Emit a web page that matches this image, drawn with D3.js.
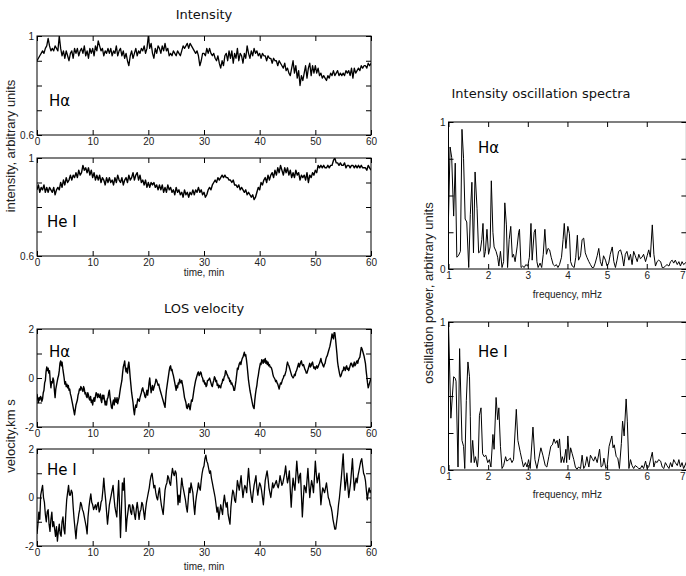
<!DOCTYPE html>
<html><head><meta charset="utf-8">
<script src="https://cdn.jsdelivr.net/npm/d3@7"></script>
<style>body{margin:0;background:#fff}svg{display:block}</style>
</head><body><svg id="c" width="686" height="576"></svg>
<script>
// ---------------- data ----------------
const intensityStep = 0.25; // min between samples (intensity series)
const haVelStep = 0.125;    // min
const heVelStep = 1 / 6;    // min
const timeTicks = [0, 10, 20, 30, 40, 50, 60];
const timeTickLabels = ["0", "10", "20", "30", "40", "50", "60"];
const intensityTicks = [0.6, 0.7, 0.8, 0.9, 1];
const intensityTickLabels = ["0.6", "", "", "", "1"];
const velocityTicks = [-2, -1, 0, 1, 2];
const velocityTickLabels = ["-2", "", "0", "", "2"];
const freqTicks = [1, 2, 3, 4, 5, 6, 7];
const freqTickLabels = ["1", "2", "3", "4", "5", "6", "7"];
const powerTicks = [0, 0.25, 0.5, 0.75, 1];
const powerTickLabels = ["0", "", "", "", "1"];

const haIntensity = [
0.90,0.91,0.92,0.93, 0.94,0.93,0.95,0.96, 0.99,0.96,0.94,0.95, 0.94,0.96,0.95,0.94, 1.00,0.95,0.92,0.94, 0.91,0.94,0.92,0.90, 0.93,0.94,0.91,0.95, 0.93,0.95,0.92,0.94, 0.95,0.93,0.96,0.92, 0.94,0.91,0.95,0.93,
0.95,0.92,0.96,0.94, 0.98,0.96,0.94,0.95, 0.92,0.94,0.93,0.95, 0.93,0.95,0.92,0.94, 0.93,0.96,0.92,0.94, 0.95,0.92,0.94,0.91, 0.93,0.90,0.88,0.92, 0.94,0.91,0.93,0.95, 0.92,0.94,0.93,0.95, 0.94,0.96,0.93,0.95,
1.00,0.95,0.97,0.93, 0.91,0.95,0.93,0.96, 0.95,0.93,0.96,0.94, 0.97,0.94,0.95,0.92, 0.93,0.92,0.94,0.93, 0.92,0.94,0.93,0.92, 0.94,0.96,0.95,0.96, 0.97,0.95,0.97,0.96, 0.95,0.94,0.93,0.94, 0.92,0.88,0.90,0.93,
0.93,0.92,0.95,0.93, 0.95,0.93,0.92,0.93, 0.91,0.90,0.92,0.89, 0.87,0.90,0.88,0.92, 0.93,0.90,0.94,0.91, 0.94,0.89,0.93,0.91, 0.95,0.90,0.93,0.92, 0.89,0.93,0.91,0.96, 0.93,0.91,0.94,0.92, 0.95,0.93,0.94,0.92,
0.93,0.91,0.93,0.92, 0.92,0.90,0.92,0.91, 0.91,0.89,0.91,0.90, 0.90,0.88,0.90,0.89, 0.88,0.87,0.89,0.86, 0.87,0.85,0.84,0.87, 0.90,0.85,0.88,0.83, 0.86,0.80,0.84,0.82, 0.85,0.88,0.83,0.87, 0.89,0.84,0.88,0.85,
0.88,0.85,0.87,0.84, 0.85,0.83,0.84,0.83, 0.82,0.84,0.83,0.85, 0.84,0.86,0.84,0.85, 0.86,0.84,0.85,0.84, 0.85,0.84,0.86,0.85, 0.86,0.84,0.87,0.83, 0.87,0.85,0.86,0.87, 0.86,0.88,0.87,0.88, 0.88,0.87,0.89,0.88,
0.89];

const heIntensity = [
0.87,0.89,0.86,0.88, 0.87,0.89,0.86,0.88, 0.86,0.88,0.87,0.86, 0.88,0.85,0.87,0.88, 0.87,0.90,0.88,0.91, 0.89,0.92,0.90,0.91, 0.93,0.91,0.93,0.92, 0.94,0.92,0.95,0.93, 0.94,0.97,0.95,0.96, 0.94,0.96,0.93,0.95,
0.92,0.94,0.91,0.93, 0.91,0.93,0.90,0.92, 0.91,0.89,0.92,0.90, 0.92,0.90,0.91,0.89, 0.92,0.90,0.93,0.91, 0.90,0.92,0.89,0.91, 0.92,0.90,0.93,0.91, 0.92,0.94,0.91,0.93, 0.94,0.91,0.93,0.90, 0.91,0.89,0.91,0.88,
0.90,0.88,0.90,0.89, 0.90,0.88,0.89,0.87, 0.89,0.87,0.89,0.86, 0.88,0.86,0.89,0.87, 0.88,0.86,0.87,0.85, 0.88,0.86,0.87,0.85, 0.86,0.84,0.87,0.85, 0.86,0.84,0.86,0.85, 0.87,0.85,0.87,0.86, 0.88,0.86,0.87,0.85,
0.86,0.84,0.85,0.87, 0.88,0.87,0.89,0.90, 0.91,0.90,0.92,0.91, 0.92,0.93,0.92,0.93, 0.92,0.92,0.91,0.91, 0.90,0.91,0.89,0.89, 0.88,0.89,0.87,0.88, 0.87,0.86,0.87,0.85, 0.86,0.85,0.84,0.85, 0.83,0.84,0.86,0.88,
0.87,0.90,0.89,0.91, 0.92,0.90,0.93,0.91, 0.93,0.94,0.92,0.95, 0.93,0.96,0.94,0.97, 0.95,0.93,0.96,0.94, 0.96,0.93,0.95,0.92, 0.94,0.92,0.95,0.93, 0.94,0.91,0.93,0.92, 0.93,0.91,0.94,0.90, 0.93,0.92,0.94,0.93,
0.95,0.94,0.97,0.96, 0.97,0.96,0.97,0.96, 0.96,0.97,0.96,0.97, 0.97,0.99,1.00,0.98, 0.98,0.97,0.98,0.97, 0.97,0.98,0.96,0.97, 0.97,0.96,0.97,0.97, 0.96,0.97,0.96,0.97, 0.96,0.97,0.96,0.96, 0.96,0.95,0.97,0.96,
0.95];

const haVelocity = [
-0.65,-0.85,-1.0,-0.8,-0.9,-0.75,-0.8,-0.95, -0.85,-0.6,-0.5,-0.2,-0.1,0.25,0.45,0.3, 0.4,0.2,0.3,-0.1,-0.4,-0.15,-0.2,0.0, -0.1,-0.5,-0.8,-0.45,-0.3,-0.15,0.0,0.1, 0.3,0.6,0.7,0.5,0.65,0.4,0.2,0.0,
-0.25,-0.15,-0.35,-0.25,-0.4,-0.3,-0.5,-0.45, -0.65,-0.75,-0.9,-1.05,-1.2,-1.35,-1.5,-1.3, -1.1,-1.0,-0.9,-0.7,-0.6,-0.45,-0.5,-0.35, -0.4,-0.5,-0.55,-0.35,-0.45,-0.65,-0.6,-0.75, -0.8,-0.6,-0.7,-0.85,-0.9,-0.75,-1.0,-0.9,
-1.1,-0.9,-0.8,-0.95,-0.75,-0.6,-0.65,-0.8, -0.65,-0.75,-0.8,-0.65,-0.9,-1.0,-0.7,-0.85, -0.7,-0.9,-1.1,-0.95,-1.1,-0.85,-0.8,-0.6, -0.5,-0.8,-1.0,-1.2,-1.25,-1.0,-0.9,-1.1, -0.8,-0.95,-1.0,-0.8,-1.05,-0.9,-0.8,-0.6,
-0.4,-0.25,-0.1,0.2,0.45,0.55,0.7,0.4, 0.25,0.4,0.2,0.5,0.65,0.35,0.0,-0.3, -0.6,-0.8,-1.0,-1.3,-1.5,-1.25,-1.1,-1.2, -1.0,-0.85,-0.9,-0.95,-0.8,-0.7,-0.6,-0.45, -0.4,-0.55,-0.6,-0.75,-0.8,-0.65,-0.5,-0.7,
-0.5,-0.2,0.0,-0.3,-0.6,-0.45,-0.3,-0.5, -0.4,-0.3,-0.2,-0.05,-0.1,-0.2,-0.3,-0.25, -0.4,-0.5,-0.6,-0.7,-0.8,-0.9,-1.0,-1.1, -1.2,-0.8,-0.5,-0.3,-0.1,0.1,0.3,0.45, 0.5,0.3,0.35,0.2,0.1,-0.05,-0.2,-0.35,
-0.5,-0.3,-0.4,-0.2,-0.25,-0.05,-0.15,-0.2, -0.1,-0.25,-0.4,-0.6,-0.8,-0.9,-1.0,-1.2, -1.25,-1.1,-1.05,-1.2,-1.3,-1.1,-0.9,-0.95, -0.8,-0.6,-0.4,-0.25,-0.1,0.0,0.1,0.2, 0.25,0.1,0.15,0.25,0.2,0.05,0.0,-0.15,
-0.1,-0.25,-0.2,-0.35,-0.3,-0.1,-0.1,-0.05, 0.0,-0.1,-0.2,-0.3,-0.35,-0.2,-0.1,0.05, 0.0,-0.15,-0.1,-0.3,-0.25,-0.4,-0.3,-0.35, -0.4,-0.25,-0.2,-0.05,-0.1,0.05,0.1,0.3, 0.25,0.15,0.1,0.0,0.0,-0.15,-0.1,-0.25,
-0.2,-0.3,-0.35,-0.5,-0.5,-0.3,-0.1,0.15, 0.4,0.35,0.5,0.6,0.65,0.55,0.7,0.8, 0.85,0.95,1.05,0.9,0.95,0.75,0.5,0.2, -0.1,-0.3,-0.5,-0.65,-0.8,-0.95,-1.1,-1.2, -1.25,-0.9,-0.65,-0.45,-0.3,-0.05,0.1,0.3,
0.45,0.6,0.55,0.75,0.7,0.6,0.75,0.65, 0.8,0.6,0.7,0.55,0.65,0.5,0.55,0.45, 0.45,0.4,0.3,0.15,0.05,0.0,-0.05,-0.15, -0.1,-0.2,-0.25,-0.35,-0.45,-0.3,-0.2,-0.25, -0.15,-0.05,0.0,0.1,0.1,0.2,0.3,0.5,
0.65,0.55,0.5,0.4,0.3,0.2,0.1,0.05, 0.0,0.05,0.15,0.1,0.25,0.3,0.4,0.5, 0.6,0.45,0.55,0.65,0.7,0.55,0.5,0.55, 0.45,0.35,0.3,0.2,0.2,0.3,0.4,0.5, 0.6,0.45,0.5,0.6,0.65,0.5,0.4,0.45,
0.35,0.45,0.5,0.4,0.45,0.55,0.6,0.7, 0.8,0.65,0.6,0.5,0.45,0.55,0.6,0.75, 0.85,0.9,1.0,1.1,1.2,1.3,1.45,1.6, 1.8,1.7,1.6,1.85,1.85,1.6,1.3,1.0, 0.65,0.45,0.3,0.15,0.05,0.1,0.2,0.3,
0.3,0.45,0.4,0.3,0.45,0.5,0.35,0.4, 0.3,0.4,0.5,0.6,0.6,0.5,0.45,0.55, 0.65,0.5,0.55,0.65,0.7,0.6,0.75,0.8, 0.85,1.05,1.25,1.2,1.1,1.0,0.9,0.75, 0.6,0.3,0.05,-0.2,-0.4,-0.3,-0.2,-0.1,
0.0];

const heVelocity = [
-1.5,-1.1,-0.6,-0.9,0.1,0.3, 0.5,0.0,-0.2,-0.7,-1.0,-0.6, -0.5,-1.1,-1.4,-0.9,-0.6,-1.2, -1.0,-1.3,-1.6,-1.2,-1.8,-1.4, -1.1,-1.5,-1.6,-1.0,-0.8,-1.3,
-1.5,-0.7,-0.1,0.2,0.5,0.1, 0.1,0.3,0.2,-0.4,-0.9,-1.3, -1.7,-1.2,-1.0,-0.7,-0.5,-0.2, -0.3,-0.5,-0.6,-0.8,-1.0,-1.2, -1.5,-0.8,-0.4,-0.1,0.15,-0.2,
-0.3,-0.5,-0.4,-0.3,-0.5,-0.3, -0.2,-0.6,-0.5,-0.2,-0.1,0.3, 0.8,0.3,-0.1,-0.6,-1.1,-0.7, -0.3,-0.1,0.1,0.3,0.5,0.0, -0.4,-0.6,-0.8,0.0,0.7,-0.4,
-1.65,-0.5,0.6,0.3,0.8,-0.2, -1.4,-0.9,-0.6,-0.3,-0.3,-0.6, -0.7,-0.3,-0.4,-0.7,-0.9,-0.5, -0.2,-0.5,-0.9,-0.6,-0.5,-0.2, -0.3,-0.6,-0.9,-0.5,-0.2,0.0,
0.2,0.4,0.7,0.9,1.0,0.7, 0.4,0.5,0.2,0.0,-0.1,0.2, 0.4,0.0,-0.3,-0.5,-0.7,-0.2, 0.3,0.5,0.6,0.9,0.8,0.6, 0.5,0.9,1.2,1.0,0.9,1.1,
1.0,0.4,-0.3,0.1,-0.2,0.3, 0.8,0.5,0.3,0.1,-0.1,-0.4, -0.6,-0.1,0.4,0.2,0.6,0.4, 0.2,-0.3,-0.7,-0.2,0.1,0.3, 0.6,0.4,0.3,0.7,1.0,1.2,
1.3,1.6,1.75,1.5,1.4,1.2, 1.0,1.1,0.8,0.6,0.4,0.2, 0.0,-0.3,-0.6,-0.4,-0.9,-0.6, -0.3,-0.5,-0.7,-0.2,0.1,-0.2, -0.4,-0.2,-0.7,-0.9,-1.1,-0.4,
0.0,0.3,0.2,-0.1,-0.2,0.2, 0.7,0.5,0.3,0.6,0.9,0.4, 0.0,0.3,0.5,0.4,0.2,0.7, 1.2,0.7,0.3,0.0,-0.2,0.2, 0.5,0.7,0.9,0.4,0.1,0.4,
0.6,0.5,0.3,0.0,-0.3,0.2, 0.7,0.9,1.1,0.8,0.4,0.2, 0.0,0.3,0.6,0.4,0.5,0.6, 0.7,0.5,0.4,0.6,0.9,0.7, 0.5,0.6,0.8,1.0,1.3,0.9,
0.6,0.8,1.1,0.3,-0.4,0.3, 0.8,0.5,0.3,0.9,1.5,1.0, 0.6,0.9,1.0,0.1,-0.8,-0.1, 0.5,0.4,0.2,0.7,1.2,0.6, 0.0,0.4,0.7,0.5,0.2,0.8,
1.5,1.0,0.6,0.8,1.0,0.4, -0.3,0.1,0.4,0.3,0.2,0.4, 0.6,0.3,0.0,-0.1,-0.3,-0.4, -0.6,-0.9,-1.1,-1.3,-1.3,-1.0, -0.7,-0.3,0.0,0.4,0.8,1.3,
1.8,1.0,0.3,0.6,1.0,0.5, 0.0,0.3,0.6,1.1,1.6,0.9, 0.3,0.6,0.8,0.6,0.9,1.1, 1.3,1.5,1.6,1.3,1.0,0.9, 0.7,0.3,-0.1,0.2,0.4,0.2,
0.3];

const haFreq = [1.00,1.04,1.08,1.13,1.17,1.21,1.25,1.30,1.34,1.38,1.42,1.46,1.51,1.55,1.59,1.63,1.67,1.72,1.76,1.80,1.84,1.87,1.90,1.93,1.97,2.01,2.05,2.08,2.12,2.15,2.20,2.24,2.27,2.31,2.35,2.39,2.42,2.46,2.49,2.53,2.57,2.61,2.64,2.68,2.73,2.77,2.79,2.83,2.87,2.91,2.95,3.00,3.04,3.08,3.11,3.16,3.19,3.23,3.26,3.31,3.35,3.39,3.43,3.47,3.51,3.55,3.59,3.64,3.68,3.72,3.76,3.80,3.85,3.89,3.92,3.96,4.01,4.05,4.08,4.12,4.17,4.21,4.25,4.28,4.33,4.37,4.41,4.45,4.49,4.54,4.58,4.62,4.66,4.70,4.75,4.79,4.83,4.87,4.91,4.96,5.00,5.04,5.08,5.13,5.17,5.21,5.25,5.29,5.34,5.38,5.42,5.46,5.50,5.55,5.59,5.63,5.67,5.71,5.76,5.80,5.84,5.88,5.92,5.97,6.01,6.05,6.09,6.14,6.18,6.22,6.26,6.30,6.35,6.39,6.43,6.47,6.51,6.56,6.60,6.64,6.68,6.72,6.77,6.81,6.85,6.89,6.93,7.01];
const haPower = [0.35,0.83,0.76,0.36,0.72,0.08,0.09,0.12,0.95,0.75,0.34,0.32,0.01,0.37,0.59,0.11,0.66,0.41,0.11,0.12,0.20,0.31,0.08,0.12,0.27,0.10,0.15,0.60,0.25,0.15,0.12,0.08,0.02,0.12,0.01,0.05,0.45,0.30,0.01,0.20,0.29,0.08,0.10,0.05,0.15,0.25,0.27,0.01,0.02,0.01,0.03,0.02,0.08,0.31,0.06,0.25,0.27,0.05,0.01,0.04,0.01,0.10,0.27,0.10,0.14,0.13,0.08,0.03,0.02,0.03,0.01,0.03,0.08,0.20,0.31,0.14,0.29,0.24,0.05,0.02,0.01,0.08,0.23,0.06,0.09,0.20,0.21,0.11,0.08,0.05,0.03,0.01,0.01,0.04,0.09,0.14,0.05,0.02,0.09,0.06,0.02,0.04,0.10,0.15,0.05,0.01,0.06,0.12,0.13,0.09,0.02,0.10,0.12,0.06,0.10,0.03,0.12,0.09,0.05,0.10,0.07,0.08,0.10,0.05,0.09,0.13,0.08,0.30,0.10,0.02,0.05,0.06,0.05,0.01,0.01,0.02,0.03,0.02,0.05,0.06,0.04,0.06,0.03,0.05,0.02,0.05,0.03,0.05];

const heFreq = [1.00,1.06,1.13,1.17,1.19,1.24,1.28,1.34,1.38,1.41,1.45,1.49,1.53,1.55,1.57,1.61,1.65,1.68,1.73,1.75,1.78,1.82,1.86,1.90,1.94,1.99,2.03,2.07,2.12,2.15,2.20,2.24,2.27,2.31,2.35,2.39,2.44,2.47,2.52,2.56,2.60,2.64,2.71,2.75,2.81,2.85,2.89,2.94,2.98,3.02,3.06,3.13,3.18,3.23,3.28,3.33,3.38,3.44,3.48,3.53,3.58,3.62,3.66,3.70,3.74,3.77,3.80,3.84,3.87,3.91,3.96,3.98,4.01,4.05,4.08,4.12,4.16,4.20,4.24,4.28,4.33,4.37,4.41,4.45,4.49,4.54,4.58,4.62,4.66,4.70,4.75,4.81,4.85,4.89,4.92,4.97,5.00,5.05,5.12,5.15,5.18,5.23,5.27,5.31,5.36,5.39,5.43,5.48,5.51,5.55,5.59,5.63,5.67,5.71,5.76,5.80,5.84,5.88,5.92,5.97,6.01,6.05,6.14,6.18,6.22,6.26,6.30,6.35,6.39,6.43,6.47,6.51,6.56,6.60,6.64,6.68,6.72,6.77,6.81,6.85,6.89,6.93,7.01];
const hePower = [0.99,0.35,0.63,0.62,0.60,0.02,0.82,0.20,0.16,0.01,0.47,0.73,0.63,0.36,0.05,0.20,0.05,0.09,0.02,0.08,0.37,0.42,0.11,0.09,0.10,0.05,0.07,0.02,0.24,0.14,0.49,0.34,0.42,0.16,0.01,0.03,0.09,0.06,0.07,0.08,0.05,0.07,0.41,0.20,0.12,0.07,0.02,0.05,0.02,0.07,0.01,0.29,0.07,0.01,0.08,0.15,0.10,0.03,0.02,0.09,0.16,0.17,0.21,0.18,0.20,0.15,0.21,0.05,0.09,0.05,0.14,0.05,0.23,0.07,0.15,0.11,0.07,0.02,0.005,0.02,0.01,0.10,0.01,0.03,0.09,0.02,0.10,0.08,0.06,0.09,0.05,0.14,0.02,0.03,0.08,0.01,0.02,0.16,0.23,0.15,0.17,0.09,0.08,0.01,0.18,0.33,0.23,0.48,0.33,0.01,0.07,0.03,0.01,0.03,0.02,0.01,0.01,0.03,0.01,0.06,0.01,0.02,0.12,0.02,0.06,0.05,0.07,0.06,0.02,0.01,0.05,0.03,0.01,0.05,0.02,0.07,0.05,0.03,0.07,0.02,0.05,0.01,0.06];

// ---------------- drawing ----------------
const W = 686;
const svg = d3.select("#c");
const TICK_FONT = "'Liberation Sans', Arial, sans-serif";
const TITLE_FONT = "'DejaVu Sans', Verdana, sans-serif";
let clipId = 0;

function drawPanel(o) {
  const x = d3.scaleLinear().domain(o.xDomain).range([o.x0, o.x1]);
  const y = d3.scaleLinear().domain(o.yDomain).range([o.y1, o.y0]);
  const g = svg.append("g");
  const id = "clip" + (clipId++);
  svg.append("clipPath").attr("id", id).append("rect")
    .attr("x", o.x0).attr("y", o.y0).attr("width", o.x1 - o.x0).attr("height", o.y1 - o.y0);

  g.append("path")
    .datum(o.data)
    .attr("clip-path", `url(#${id})`)
    .attr("fill", "none").attr("stroke", "#000").attr("stroke-width", o.sw || 1.1)
    .attr("stroke-linejoin", "round")
    .attr("d", d3.line().x(d => x(d[0])).y(d => y(d[1])));

  const tl = 5;
  const fmt = (ticks, labels) => (d) => labels[ticks.indexOf(d)];
  const ax = g.append("g").attr("transform", `translate(0,${o.y1})`)
    .call(d3.axisBottom(x).tickValues(o.xTicks).tickFormat(fmt(o.xTicks, o.xLabels))
      .tickSizeInner(-tl).tickSizeOuter(0).tickPadding(3));
  const axT = g.append("g").attr("transform", `translate(0,${o.y0})`)
    .call(d3.axisTop(x).tickValues(o.xTicks).tickFormat("").tickSizeInner(-tl).tickSizeOuter(0));
  const ay = g.append("g").attr("transform", `translate(${o.x0},0)`)
    .call(d3.axisLeft(y).tickValues(o.yTicks).tickFormat(fmt(o.yTicks, o.yLabels))
      .tickSizeInner(-tl).tickSizeOuter(0).tickPadding(3));
  const ayR = g.append("g").attr("transform", `translate(${o.x1},0)`)
    .call(d3.axisRight(y).tickValues(o.yTicks).tickFormat("").tickSizeInner(-tl).tickSizeOuter(0));
  [ax, axT, ay, ayR].forEach(a => {
    a.select(".domain").remove();
    a.selectAll("line").attr("stroke", "#000");
    a.selectAll("text").attr("fill", "#222").style("font-family", TICK_FONT).style("font-size", "10px");
  });
  // keep a tick label that sits on the page edge inside the page
  ax.selectAll(".tick").each(function(d) {
    if (x(d) > W - 4) d3.select(this).select("text").attr("text-anchor", "end").attr("x", W - 1 - x(d));
  });
  g.append("rect").attr("x", o.x0).attr("y", o.y0)
    .attr("width", o.x1 - o.x0).attr("height", o.y1 - o.y0)
    .attr("fill", "none").attr("stroke", "#000").attr("stroke-width", 1);

  g.append("text").attr("x", o.lx).attr("y", o.ly).text(o.label)
    .style("font-family", TITLE_FONT).style("font-size", "15px").attr("fill", "#000");

  if (o.xTitle) {
    g.append("text").attr("x", (o.x0 + o.x1) / 2).attr("y", o.xTitleY).attr("text-anchor", "middle")
      .text(o.xTitle).style("font-family", TICK_FONT).style("font-size", "10px").attr("fill", "#222");
  }
}

const series = (arr, step) => arr.map((v, i) => [i * step, v]);
const pairs = (xs, ys) => xs.map((f, i) => [f, ys[i]]);

const L = {x0: 37, x1: 371};
drawPanel({...L, y0: 36, y1: 135, xDomain: [0, 60], yDomain: [0.6, 1],
  xTicks: timeTicks, xLabels: timeTickLabels, yTicks: intensityTicks, yLabels: intensityTickLabels,
  data: series(haIntensity, intensityStep), label: "Hα", lx: 49, ly: 106, sw: 1.3});
drawPanel({...L, y0: 158, y1: 256, xDomain: [0, 60], yDomain: [0.6, 1],
  xTicks: timeTicks, xLabels: timeTickLabels, yTicks: intensityTicks, yLabels: intensityTickLabels,
  data: series(heIntensity, intensityStep), label: "He I", lx: 47, ly: 227, sw: 1.4,
  xTitle: "time, min", xTitleY: 276});
drawPanel({...L, y0: 329, y1: 427, xDomain: [0, 60], yDomain: [-2, 2],
  xTicks: timeTicks, xLabels: timeTickLabels, yTicks: velocityTicks, yLabels: velocityTickLabels,
  data: series(haVelocity, haVelStep), label: "Hα", lx: 49, ly: 357, sw: 1.4});
drawPanel({...L, y0: 449, y1: 546, xDomain: [0, 60], yDomain: [-2, 2],
  xTicks: timeTicks, xLabels: timeTickLabels, yTicks: velocityTicks, yLabels: velocityTickLabels,
  data: series(heVelocity, heVelStep), label: "He I", lx: 47, ly: 475, sw: 1.3,
  xTitle: "time, min", xTitleY: 570});

const R = {x0: 448.5, x1: 686.4};
drawPanel({...R, y0: 122, y1: 269, xDomain: [1, 7], yDomain: [0, 1],
  xTicks: freqTicks, xLabels: freqTickLabels, yTicks: powerTicks, yLabels: powerTickLabels,
  data: pairs(haFreq, haPower), label: "Hα", lx: 478, ly: 153, sw: 1,
  xTitle: "frequency, mHz", xTitleY: 298});
drawPanel({...R, y0: 322, y1: 470, xDomain: [1, 7], yDomain: [0, 1],
  xTicks: freqTicks, xLabels: freqTickLabels, yTicks: powerTicks, yLabels: powerTickLabels,
  data: pairs(heFreq, hePower), label: "He I", lx: 478, ly: 357, sw: 1,
  xTitle: "frequency, mHz", xTitleY: 498});

function title(txt, x, y) {
  svg.append("text").attr("x", x).attr("y", y).attr("text-anchor", "middle").text(txt)
    .style("font-family", TITLE_FONT).style("font-size", "13px").attr("fill", "#111");
}
title("Intensity", 204, 19);
title("LOS velocity", 204, 313);
title("Intensity oscillation spectra", 541, 98);

function ylab(txt, x, y) {
  svg.append("text").attr("transform", `translate(${x},${y}) rotate(-90)`).attr("text-anchor", "middle")
    .text(txt).style("font-family", TICK_FONT).style("font-size", "13px").attr("fill", "#222");
}
ylab("intensity, arbitrary units", 15, 146);
ylab("velocity,km s", 15, 436);
ylab("oscillation power, arbitrary units", 433, 293);
</script></body></html>
